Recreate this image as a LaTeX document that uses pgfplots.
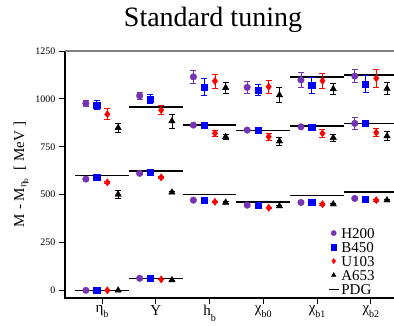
\documentclass[border=0pt]{standalone}
\usepackage{pgfplots}
\pgfplotsset{compat=1.18}
\usepackage{pgfplotstable}
\usepackage{fontspec}
\setmainfont{Liberation Serif}
\usetikzlibrary{calc}
\definecolor{hpurple}{RGB}{118,52,180}
\definecolor{bblue}{RGB}{0,0,255}
\definecolor{ured}{RGB}{255,0,0}
\newcommand{\sub}[1]{\raisebox{-0.35em}{\fontsize{10}{10}\selectfont #1}}

\pgfplotstableread{
c y e
0 0 0
0 581 3
0 976 17
1 63 0
1 611 4
1 1016 20
2 471 0
2 863 4
2 1115 35
3 445 0
3 837 4
3 1060 33
4 459 0
4 854 5
4 1099 37
5 480 0
5 872 31
5 1119 35
}\Hdata
\pgfplotstableread{
c y e
0 0 0
0 590 4
0 967 23
1 63 0
1 616 4
1 999 22
2 471 0
2 863 4
2 1063 43
3 445 0
3 837 4
3 1046 30
4 459 0
4 851 5
4 1072 43
5 477 0
5 872 5
5 1078 46
}\Bdata
\pgfplotstableread{
c y e
0 0 0
0 564 4
0 920 29
1 57 0
1 590 5
1 941 24
2 462 4
2 820 15
2 1093 37
3 431 5
3 802 19
3 1063 35
4 450 4
4 820 21
4 1094 39
5 471 5
5 824 22
5 1107 47
}\Udata
\pgfplotstableread{
c y e
0 0 0
0 501 20
0 849 23
1 54 0
1 512 5
1 884 37
2 459 4
2 802 15
2 1058 29
3 440 5
3 779 22
3 1020 39
4 450 4
4 797 19
4 1052 29
5 471 5
5 806 22
5 1054 31
}\Adata

\begin{document}
\begin{tikzpicture}
\begin{axis}[
  scale only axis, width=329pt, height=247pt,
  xmin=-0.688, xmax=5.43, ymin=-40, ymax=1250,
  clip=false,
  axis line style={draw=none},
  xtick={0,1,2,3,4,5},
  xticklabels={η\sub{b}, Υ, h\sub{b}, χ\sub{b0}, χ\sub{b1}, χ\sub{b2}},
  ytick={0,250,500,750,1000,1250},
  tick align=outside, tick pos=left,
  major tick length=6pt,
  tick style={black, line width=0.8pt},
  /pgf/number format/assume math mode=true,
  /pgf/number format/1000 sep={},
  y tick label style={font=\fontsize{10}{10}\selectfont},
  x tick label style={font=\fontsize{15}{15}\selectfont, yshift=2pt},
  ylabel={M - M\textsubscript{η\textsubscript{b}}\enspace[ MeV ]},
  ylabel style={font=\fontsize{15}{15}\selectfont},
  legend style={at={(rel axis cs:0.79,0.30)}, anchor=north west, draw=none, fill=none,
    font=\fontsize{15}{15}\selectfont, row sep=0pt,
    nodes={inner sep=2pt, text height=10pt, text depth=0pt}},
  legend cell align=left,
  legend image post style={mark size=2.6pt},
  error bars/y dir=both, error bars/y explicit,
  pdg/.style={black, line width=1.6pt, forget plot},
]
\draw[black, line width=1.2pt] (rel axis cs:0,1) -- (rel axis cs:0,0) -- (rel axis cs:1,0);
\draw[gray, line width=1.2pt] (rel axis cs:0,1) -- (rel axis cs:1,1);

\addplot[pdg] coordinates {(-0.5,0) (0.5,0)};
\addplot[pdg] coordinates {(-0.5,600) (0.5,600)};
\addplot[pdg] coordinates {(0.5,61) (1.5,61)};
\addplot[pdg] coordinates {(0.5,624) (1.5,624)};
\addplot[pdg] coordinates {(0.5,958) (1.5,958)};
\addplot[pdg] coordinates {(1.5,500) (2.5,500)};
\addplot[pdg] coordinates {(1.5,863) (2.5,863)};
\addplot[pdg] coordinates {(2.5,460) (3.5,460)};
\addplot[pdg] coordinates {(2.5,835) (3.5,835)};
\addplot[pdg] coordinates {(3.5,496) (4.5,496)};
\addplot[pdg] coordinates {(3.5,857) (4.5,857)};
\addplot[pdg] coordinates {(3.5,1115) (4.5,1115)};
\addplot[pdg] coordinates {(4.5,515) (5.43,515)};
\addplot[pdg] coordinates {(4.5,872) (5.43,872)};
\addplot[pdg] coordinates {(4.5,1126) (5.43,1126)};

\addplot[only marks, mark=*, mark size=3.3pt, color=hpurple,
  error bars/error bar style={line width=0.7pt, hpurple},
  error bars/error mark options={rotate=90, mark size=3pt, line width=0.7pt, hpurple}]
  table[x expr=\thisrow{c}-0.3, y=y, y error=e] {\Hdata};
\addlegendentry{H200}
\addplot[only marks, mark=square*, mark size=3.1pt, color=bblue,
  error bars/error bar style={line width=0.7pt, bblue},
  error bars/error mark options={rotate=90, mark size=3pt, line width=0.7pt, bblue}]
  table[x expr=\thisrow{c}-0.1, y=y, y error=e] {\Bdata};
\addlegendentry{B450}
\addplot[only marks, mark=diamond*, mark size=3.6pt, color=ured,
  error bars/error bar style={line width=0.7pt, ured},
  error bars/error mark options={rotate=90, mark size=3pt, line width=0.7pt, ured}]
  table[x expr=\thisrow{c}+0.1, y=y, y error=e] {\Udata};
\addlegendentry{U103}
\addplot[only marks, mark=triangle*, mark size=3.7pt, color=black,
  error bars/error bar style={line width=0.7pt, black},
  error bars/error mark options={rotate=90, mark size=3pt, line width=0.7pt, black}]
  table[x expr=\thisrow{c}+0.3, y=y, y error=e] {\Adata};
\addlegendentry{A653}
\addlegendimage{legend image code/.code={\draw[black, line width=1pt] (0.12cm,0cm) -- (0.48cm,0cm);}}
\addlegendentry{PDG}
\end{axis}
\node[anchor=base, font=\fontsize{28}{28}\selectfont] at ($(current axis.north west)+(148pt,24pt)$) {Standard tuning};
\pgfresetboundingbox
\path[use as bounding box] ($(current axis.south west)+(-65pt,-27pt)$) rectangle ($(current axis.north east)+(0pt,51pt)$);
\end{tikzpicture}
\end{document}
